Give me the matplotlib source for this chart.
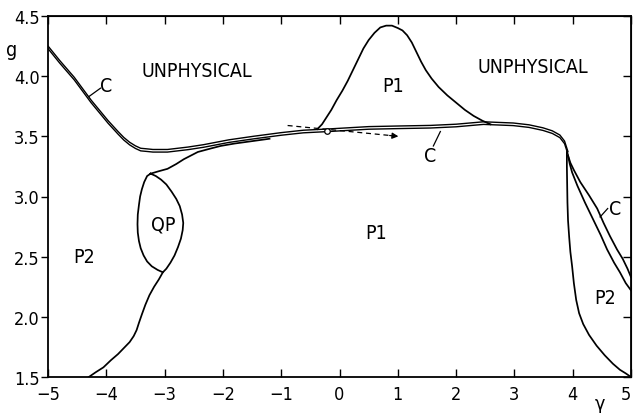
import matplotlib
matplotlib.use("Agg")
import matplotlib.pyplot as plt
import matplotlib.transforms as mtransforms

plt.rcParams['font.family'] = ['DejaVu Sans']
plt.rcParams['font.stretch'] = 'condensed'

# ---- curve data (gamma, g) ----
# C: upper/left part, drawn as a double line
c_x = [-5.00, -4.80, -4.55, -4.26, -3.97, -3.80, -3.70, -3.60, -3.50, -3.41,
       -3.30, -3.20, -2.95, -2.60, -2.33, -1.90, -1.47, -1.00, -0.62, -0.21,
       0.50, 1.00, 1.56, 2.00, 2.47, 2.98, 3.25, 3.49, 3.65, 3.78, 3.86, 3.92]
c_y = [4.24, 4.12, 3.98, 3.79, 3.62, 3.53, 3.48, 3.44, 3.41, 3.39,
       3.385, 3.38, 3.38, 3.40, 3.42, 3.46, 3.49, 3.52, 3.54, 3.55,
       3.57, 3.575, 3.58, 3.59, 3.61, 3.60, 3.585, 3.56, 3.535, 3.50, 3.45, 3.36]
# C: descending branch on the right, two separate lines
c_r1_x = [3.92, 3.96, 4.02, 4.13, 4.28, 4.42, 4.53, 4.64, 4.76, 4.86, 4.94, 5.00]
c_r1_y = [3.34, 3.28, 3.22, 3.12, 3.01, 2.90, 2.78, 2.67, 2.56, 2.48, 2.40, 2.33]
c_r2_x = [3.92, 3.95, 3.99, 4.08, 4.21, 4.35, 4.48, 4.59, 4.71, 4.81, 4.91, 5.00]
c_r2_y = [3.34, 3.27, 3.20, 3.09, 2.95, 2.81, 2.68, 2.56, 2.45, 2.37, 2.28, 2.22]

# P1 / P2 boundary on the right
p_r_x = [3.90, 3.90, 3.905, 3.91, 3.92, 3.94, 3.96, 3.99, 4.02, 4.06, 4.11,
         4.18, 4.28, 4.41, 4.55, 4.69, 4.81, 4.91, 5.00]
p_r_y = [3.37, 3.25, 3.10, 2.95, 2.80, 2.66, 2.54, 2.42, 2.28, 2.14, 2.03,
         1.94, 1.85, 1.76, 1.68, 1.61, 1.56, 1.53, 1.50]

# P1 region above C
p1_x = [-0.38, -0.30, -0.22, -0.14, -0.05, 0.05, 0.14, 0.23, 0.32, 0.41,
        0.50, 0.60, 0.70, 0.80, 0.90, 1.00, 1.08, 1.16, 1.24, 1.32,
        1.40, 1.48, 1.58, 1.70, 1.85, 2.00, 2.15, 2.30, 2.45, 2.59]
p1_y = [3.56, 3.60, 3.66, 3.72, 3.80, 3.88, 3.96, 4.05, 4.14, 4.23,
        4.30, 4.36, 4.405, 4.42, 4.42, 4.40, 4.38, 4.34, 4.28, 4.20,
        4.12, 4.05, 3.98, 3.91, 3.84, 3.78, 3.72, 3.67, 3.63, 3.60]

# Boundary leaving the top of QP and joining C
br_x = [-3.24, -3.10, -2.95, -2.80, -2.67, -2.43, -2.20, -2.04, -1.80, -1.50, -1.20]
br_y = [3.19, 3.21, 3.23, 3.27, 3.31, 3.37, 3.40, 3.42, 3.44, 3.46, 3.48]

# QP closed loop
qp_x = [-3.24, -3.30, -3.35, -3.39, -3.42, -3.44, -3.46, -3.465, -3.46, -3.44,
        -3.41, -3.36, -3.30, -3.22, -3.12, -3.03, -2.97, -2.90, -2.83, -2.77,
        -2.72, -2.69, -2.68, -2.70, -2.74, -2.80, -2.88, -2.97, -3.06, -3.15, -3.24]
qp_y = [3.19, 3.17, 3.12, 3.06, 3.00, 2.93, 2.85, 2.77, 2.70, 2.63,
        2.57, 2.51, 2.46, 2.42, 2.39, 2.37, 2.40, 2.45, 2.51, 2.58,
        2.65, 2.72, 2.78, 2.85, 2.92, 2.98, 3.04, 3.10, 3.14, 3.17, 3.19]

# Boundary from the bottom of QP to the axis
lo_x = [-3.03, -3.10, -3.18, -3.26, -3.33, -3.39, -3.44, -3.48, -3.53, -3.60,
        -3.70, -3.80, -3.92, -4.05, -4.18, -4.30]
lo_y = [2.37, 2.31, 2.25, 2.18, 2.10, 2.02, 1.95, 1.89, 1.84, 1.79,
        1.74, 1.69, 1.64, 1.58, 1.54, 1.50]

# dashed arrow and its starting point
arrow_start = (-0.89, 3.59)
arrow_end = (1.01, 3.50)
dot_pt = (-0.21, 3.545)

x_ticks = [-5, -4, -3, -2, -1, 0, 1, 2, 3, 4, 5]
y_ticks = [1.5, 2.0, 2.5, 3.0, 3.5, 4.0, 4.5]
y_ticklabels = ['1.5', '2.0', '2.5', '3.0', '3.5', '4.0', '4.5']

region_labels = [
    ("UNPHYSICAL", -2.45, 4.05),
    ("UNPHYSICAL", 3.32, 4.08),
    ("P1", 0.92, 3.92),
    ("P1", 0.62, 2.70),
    ("P2", -4.38, 2.50),
    ("P2", 4.55, 2.16),
    ("QP", -3.03, 2.77),
]
c_labels = [
    # text position, leader start, leader end
    ((-4.01, 3.92), (-4.30, 3.83), (-4.10, 3.90)),
    ((1.56, 3.34), (1.61, 3.42), (1.73, 3.54)),
    ((4.73, 2.90), (4.47, 2.83), (4.60, 2.90)),
]

fig = plt.figure(figsize=(6.33, 4.14), dpi=100)
ax = fig.add_axes([48 / 633, 36 / 414, 583 / 633, 361 / 414])
ax.set_xlim(-5, 5)
ax.set_ylim(1.5, 4.5)

lw = 1.25
col = 'black'

# double line for C: the same curve drawn twice, shifted by a pixel or so
up = mtransforms.offset_copy(ax.transData, fig=fig, x=0, y=1.3, units='dots')
dn = mtransforms.offset_copy(ax.transData, fig=fig, x=0, y=-1.3, units='dots')
ax.plot(c_x, c_y, color=col, lw=1.0, transform=up, solid_capstyle='round')
ax.plot(c_x, c_y, color=col, lw=1.0, transform=dn, solid_capstyle='round')
ax.plot(c_r1_x, c_r1_y, color=col, lw=lw)
ax.plot(c_r2_x, c_r2_y, color=col, lw=lw)

ax.plot(p_r_x, p_r_y, color=col, lw=lw)
ax.plot(p1_x, p1_y, color=col, lw=lw)
ax.plot(br_x, br_y, color=col, lw=lw)
ax.plot(qp_x, qp_y, color=col, lw=lw)
ax.plot(lo_x, lo_y, color=col, lw=lw)

# dashed arrow
ax.plot([arrow_start[0], arrow_end[0] - 0.12],
        [arrow_start[1], arrow_end[1] + 0.006],
        color=col, lw=0.9, ls=(0, (4, 3)))
ax.annotate('', xy=arrow_end, xytext=(arrow_end[0] - 0.15, arrow_end[1] + 0.007),
            arrowprops=dict(arrowstyle='-|>', color=col, lw=0.9,
                            mutation_scale=9, shrinkA=0, shrinkB=0))
ax.plot([dot_pt[0]], [dot_pt[1]], marker='o', ms=4, mfc='white', mec=col, mew=0.9)

for txt, x, y in region_labels:
    ax.text(x, y, txt, ha='center', va='center', fontsize=14)
for (tx, ty), (x0, y0), (x1, y1) in c_labels:
    ax.text(tx, ty, 'C', ha='center', va='center', fontsize=14)
    ax.plot([x0, x1], [y0, y1], color=col, lw=0.9)

# axes styling
for s in ax.spines.values():
    s.set_linewidth(1.3)
ax.set_xticks(x_ticks)
ax.set_xticklabels([str(v) if v >= 0 else '\u2212' + str(-v) for v in x_ticks])
ax.set_yticks(y_ticks)
ax.set_yticklabels(y_ticklabels)
ax.tick_params(axis='x', direction='in', length=6, width=1.0, pad=6, labelsize=13)
ax.tick_params(axis='y', direction='out', length=5, width=1.0, pad=1, labelsize=13)
ax.get_xticklabels()[-1].set_horizontalalignment('right')

top = ax.secondary_xaxis('top')
top.set_xticks(x_ticks)
top.tick_params(direction='in', length=6, width=1.0, labeltop=False)
right = ax.secondary_yaxis('right')
right.set_yticks(y_ticks)
right.tick_params(direction='in', length=6, width=1.0, labelright=False)

fig.text(12 / 633, 1 - 50 / 414, 'g', ha='center', va='center', fontsize=14)
fig.text(600 / 633, 1 - 405 / 414, '\u03b3', ha='center', va='center', fontsize=14)

fig.savefig('out.png', dpi=100)
